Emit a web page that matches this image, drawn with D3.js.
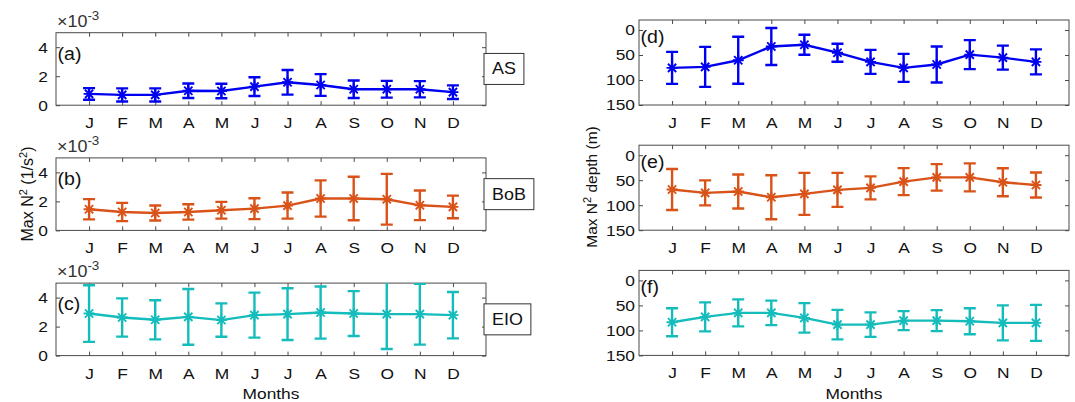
<!DOCTYPE html>
<html>
<head>
<meta charset="utf-8">
<script src="https://cdn.jsdelivr.net/npm/d3@7"></script>
<style>
    body { margin: 0; background: #fff; }
    svg { display: block; font-family: "Liberation Sans", Arial, Helvetica, sans-serif; }
</style>
</head>
<body>
<svg width="1075" height="402"></svg>
<script>
// data (left panels in 1e-3 1/s^2, right panels in m)
const months = ["J", "F", "M", "A", "M", "J", "J", "A", "S", "O", "N", "D"];

const asN2 = [0.78, 0.71, 0.71, 1.0, 0.98, 1.28, 1.58, 1.39, 1.1, 1.1, 1.1, 0.9];
const asN2Err = [0.4, 0.45, 0.45, 0.5, 0.5, 0.65, 0.85, 0.75, 0.6, 0.58, 0.56, 0.47];
const bobN2 = [1.46, 1.27, 1.2, 1.27, 1.39, 1.5, 1.71, 2.2, 2.2, 2.15, 1.73, 1.62];
const bobN2Err = [0.7, 0.63, 0.52, 0.53, 0.58, 0.72, 0.9, 1.25, 1.5, 1.75, 1.02, 0.78];
const eioN2 = [2.9, 2.63, 2.47, 2.67, 2.45, 2.79, 2.86, 2.97, 2.9, 2.86, 2.86, 2.79];
const eioN2Err = [1.95, 1.32, 1.35, 1.92, 1.15, 1.55, 1.78, 1.8, 1.55, 2.4, 2.1, 1.6];

const asDepth = [75.7, 73.7, 60.5, 32.9, 29.6, 45.4, 63.8, 75.7, 69, 49.3, 55.3, 63.8];
const asDepthErr = [32, 40, 47, 37, 20, 18, 24, 28, 36, 29, 24, 25];
const bobDepth = [68.7, 75.3, 72.7, 84, 77.3, 69.4, 65.4, 52.9, 44.3, 44.3, 54.2, 59.5];
const bobDepthErr = [41, 25, 34, 44, 42, 34, 23, 27, 26.5, 28, 28, 25];
const eioDepth = [83.7, 73, 65, 65, 75, 88.4, 88.4, 80.4, 80.4, 81.7, 85, 85];
const eioDepthErr = [28, 29, 27, 24.5, 29.5, 29.5, 24.5, 19, 21, 26, 35, 36];

const n2Ticks = [0, 2, 4];
const depthTicks = [0, 50, 100, 150];

const regions = ["AS", "BoB", "EIO"];
const colors = ["#0000f0", "#d95319", "#14bcbc"];

const panels = [
    { tag: "(a)", mean: asN2, err: asN2Err, region: 0, col: 0, row: 0 },
    { tag: "(b)", mean: bobN2, err: bobN2Err, region: 1, col: 0, row: 1 },
    { tag: "(c)", mean: eioN2, err: eioN2Err, region: 2, col: 0, row: 2 },
    { tag: "(d)", mean: asDepth, err: asDepthErr, region: 0, col: 1, row: 0 },
    { tag: "(e)", mean: bobDepth, err: bobDepthErr, region: 1, col: 1, row: 1 },
    { tag: "(f)", mean: eioDepth, err: eioDepthErr, region: 2, col: 1, row: 2 },
];

// layout
const cols = [
    { left: 56, width: 430, top: 32.7, height: 72.5, domain: [0, 5], ticks: n2Ticks, labelGap: 8 },
    { left: 639, width: 430, top: 20, height: 85, domain: [150, -20], ticks: depthTicks, labelGap: 4 },
];
const rowStep = 125.2;
const axisColor = "#4a4a4a";
const fontSize = 15.5;
const stretchX = 1.12; // the reference figure is a little wider than tall

// widen a horizontal text around its own anchor point
function stretch(sel) {
    sel.each(function () {
        const t = d3.select(this);
        const x = +t.attr("x") || 0;
        const y = +t.attr("y") || 0;
        t.attr("transform", `translate(${x},${y}) scale(${stretchX},1) translate(${-x},${-y})`);
    });
}

const svg = d3.select("svg");

panels.forEach((p, k) => {
    const c = cols[p.col];
    const top = c.top + p.row * rowStep;
    const color = colors[p.region];

    const x = d3.scaleLinear().domain([0, 13]).range([c.left, c.left + c.width]);
    const y = d3.scaleLinear().domain(c.domain).range([top + c.height, top]);

    const g = svg.append("g").attr("class", "panel");

    // clip
    const clipId = "clip" + k;
    svg.append("clipPath").attr("id", clipId)
        .append("rect")
        .attr("x", c.left).attr("y", top)
        .attr("width", c.width).attr("height", c.height);

    // bottom axis with month labels
    g.append("g")
        .attr("transform", `translate(0, ${top + c.height})`)
        .call(d3.axisBottom(x).tickValues(d3.range(1, 13)).tickSize(-4)
            .tickFormat((d) => months[d - 1]).tickPadding(12))
        .call((a) => a.select(".domain").remove());

    // top axis ticks
    g.append("g")
        .attr("transform", `translate(0, ${top})`)
        .call(d3.axisTop(x).tickValues(d3.range(1, 13)).tickSize(-4).tickFormat(""))
        .call((a) => a.select(".domain").remove());

    // left axis
    g.append("g")
        .attr("transform", `translate(${c.left}, 0)`)
        .call(d3.axisLeft(y).tickValues(c.ticks).tickSize(-4)
            .tickFormat(d3.format("d")).tickPadding(c.labelGap))
        .call((a) => a.select(".domain").remove());

    // right axis ticks
    g.append("g")
        .attr("transform", `translate(${c.left + c.width}, 0)`)
        .call(d3.axisRight(y).tickValues(c.ticks).tickSize(-4).tickFormat(""))
        .call((a) => a.select(".domain").remove());

    g.selectAll("g").attr("font-family", null).attr("font-size", null);
    g.selectAll(".tick line").attr("stroke", axisColor);
    g.selectAll(".tick text")
        .attr("fill", "#111")
        .attr("font-size", fontSize)
        .call(stretch);

    // box
    g.append("rect")
        .attr("x", c.left).attr("y", top)
        .attr("width", c.width).attr("height", c.height)
        .attr("fill", "none")
        .attr("stroke", axisColor)
        .attr("stroke-width", 1);

    const data = p.mean.map((m, i) => ({ m: i + 1, v: m, e: p.err[i] }));
    const plot = g.append("g").attr("clip-path", `url(#${clipId})`);

    // error bars
    const capHalf = 6;
    plot.selectAll(".error-bar")
        .data(data)
        .join("path")
        .attr("class", "error-bar")
        .attr("d", (d) => {
            const path = d3.path();
            const cx = x(d.m);
            const y0 = y(d.v - d.e);
            const y1 = y(d.v + d.e);
            path.moveTo(cx, y0);
            path.lineTo(cx, y1);
            path.moveTo(cx - capHalf, y0);
            path.lineTo(cx + capHalf, y0);
            path.moveTo(cx - capHalf, y1);
            path.lineTo(cx + capHalf, y1);
            return path.toString();
        })
        .attr("stroke", color)
        .attr("stroke-width", 2.4)
        .attr("fill", "none");

    // mean line
    plot.append("path")
        .datum(data)
        .attr("d", d3.line().x((d) => x(d.m)).y((d) => y(d.v)))
        .attr("stroke", color)
        .attr("stroke-width", 2.4)
        .attr("fill", "none");

    // asterisk markers
    const r = 5.5;
    const rd = r * 0.75;
    plot.selectAll(".marker")
        .data(data)
        .join("path")
        .attr("class", "marker")
        .attr("d", (d) => {
            const cx = x(d.m);
            const cy = y(d.v);
            return `M${cx - r},${cy}H${cx + r}M${cx},${cy - r}V${cy + r}` +
                `M${cx - rd},${cy - rd}L${cx + rd},${cy + rd}M${cx - rd},${cy + rd}L${cx + rd},${cy - rd}`;
        })
        .attr("stroke", color)
        .attr("stroke-width", 1.9)
        .attr("fill", "none");

    // panel tag
    g.append("text")
        .attr("x", c.left + 1.5)
        .attr("y", top + (p.col === 0 ? 27 : 23))
        .attr("font-size", 17.5)
        .attr("fill", "#111")
        .text(p.tag)
        .call(stretch);

    if (p.col === 0) {
        // multiplier
        const mult = g.append("text")
            .attr("x", c.left + 1)
            .attr("y", top - 6)
            .attr("font-size", 16)
            .attr("fill", "#333");
        mult.append("tspan").text("\u00d710");
        mult.append("tspan").attr("dy", -7).attr("font-size", 12).text("-3");
        mult.call(stretch);

        // region label box
        const lbl = g.append("g");
        const txt = lbl.append("text")
            .attr("x", 0)
            .attr("y", top + c.height / 2 + 5.5)
            .attr("font-size", 16)
            .attr("fill", "#111")
            .text(regions[p.region]);
        const tw = txt.node().getComputedTextLength() * stretchX;
        const pad = 8;
        const bx = 484;
        txt.attr("x", bx + pad).call(stretch);
        lbl.insert("rect", "text")
            .attr("x", bx)
            .attr("y", top + c.height / 2 - 15.5)
            .attr("width", tw + 2 * pad)
            .attr("height", 31)
            .attr("fill", "#fff")
            .attr("stroke", "#333")
            .attr("stroke-width", 1);
    }
});

// axis titles
const leftTitle = svg.append("text")
    .attr("transform", "translate(33, 194) rotate(-90)")
    .attr("text-anchor", "middle")
    .attr("font-size", 16)
    .attr("fill", "#111");
leftTitle.append("tspan").text("Max N");
leftTitle.append("tspan").attr("dy", -6).attr("font-size", 11).text("2");
leftTitle.append("tspan").attr("dy", 6).text(" (1/s");
leftTitle.append("tspan").attr("dy", -6).attr("font-size", 11).text("2");
leftTitle.append("tspan").attr("dy", 6).text(")");

const rightTitle = svg.append("text")
    .attr("transform", "translate(597, 187) rotate(-90)")
    .attr("text-anchor", "middle")
    .attr("font-size", 15.5)
    .attr("fill", "#111");
rightTitle.append("tspan").text("Max N");
rightTitle.append("tspan").attr("dy", -6).attr("font-size", 11).text("2");
rightTitle.append("tspan").attr("dy", 6).text(" depth (m)");

cols.forEach((c) => {
    svg.append("text")
        .attr("x", c.left + c.width / 2)
        .attr("y", 399)
        .attr("text-anchor", "middle")
        .attr("font-size", fontSize)
        .attr("fill", "#111")
        .text("Months")
        .call(stretch);
});
</script>
</body>
</html>
